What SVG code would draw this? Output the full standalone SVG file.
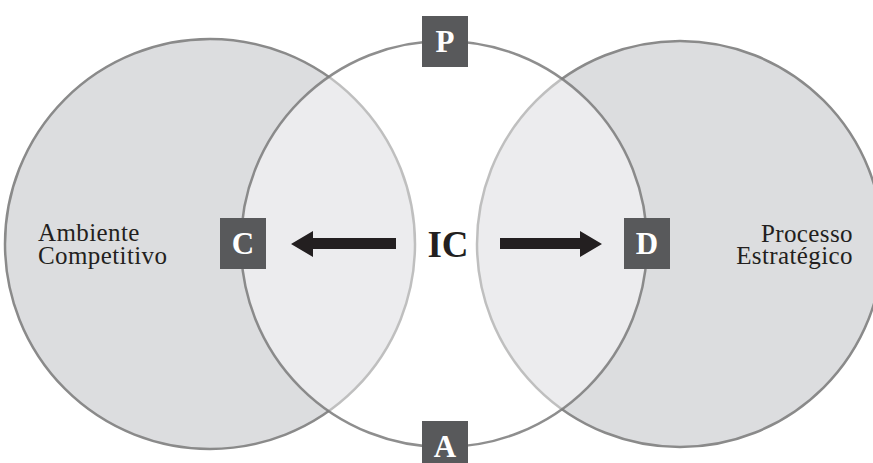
<svg xmlns="http://www.w3.org/2000/svg" width="873" height="463" viewBox="0 0 873 463">
<style>
.side{fill:#dcdddf;stroke:#8a8a8a;stroke-width:2.5}
.mid{fill:#ffffff;fill-opacity:0.46;stroke:#7a7a7a;stroke-opacity:0.85;stroke-width:2.5}
.box{fill:#58595b}
.bl{font-family:"Liberation Serif","Times New Roman",serif;font-weight:bold;font-size:31px;fill:#ffffff;text-anchor:middle}
.lbl{font-family:"Liberation Serif","Times New Roman",serif;font-size:25px;fill:#231f20;letter-spacing:0.4px}
.arrow{fill:#231f20}
</style>
<g id="ambiente">
<circle class="side" cx="210" cy="244" r="205"/>
<text class="lbl" x="38" y="241">Ambiente</text>
<text class="lbl" x="38" y="263.5">Competitivo</text>
</g>
<g id="processo">
<circle class="side" cx="680" cy="244" r="203"/>
<text class="lbl" x="853" y="241.5" text-anchor="end">Processo</text>
<text class="lbl" x="853" y="263.5" text-anchor="end">Estratégico</text>
</g>
<g id="ic">
<circle class="mid" cx="444" cy="244" r="203"/>
<text x="448" y="257" font-family="Liberation Serif, Times New Roman, serif" font-weight="bold" font-size="37" fill="#231f20" text-anchor="middle">IC</text>
</g>
<g id="connectors">
<polygon class="arrow" points="396,238 313,238 313,231 291,244 313,257 313,249 396,249"/>
<polygon class="arrow" points="500,238 580,238 580,231 602,244 580,257 580,249 500,249"/>
</g>
<g id="P">
<rect class="box" x="422" y="16" width="46" height="51"/>
<text class="bl" x="445" y="52">P</text>
</g>
<g id="A">
<rect class="box" x="422" y="421" width="46" height="51"/>
<text class="bl" x="445" y="457">A</text>
</g>
<g id="C">
<rect class="box" x="220" y="218" width="46" height="51"/>
<text class="bl" x="243" y="254">C</text>
</g>
<g id="D">
<rect class="box" x="624" y="218" width="46" height="51"/>
<text class="bl" x="647" y="254">D</text>
</g>
</svg>
